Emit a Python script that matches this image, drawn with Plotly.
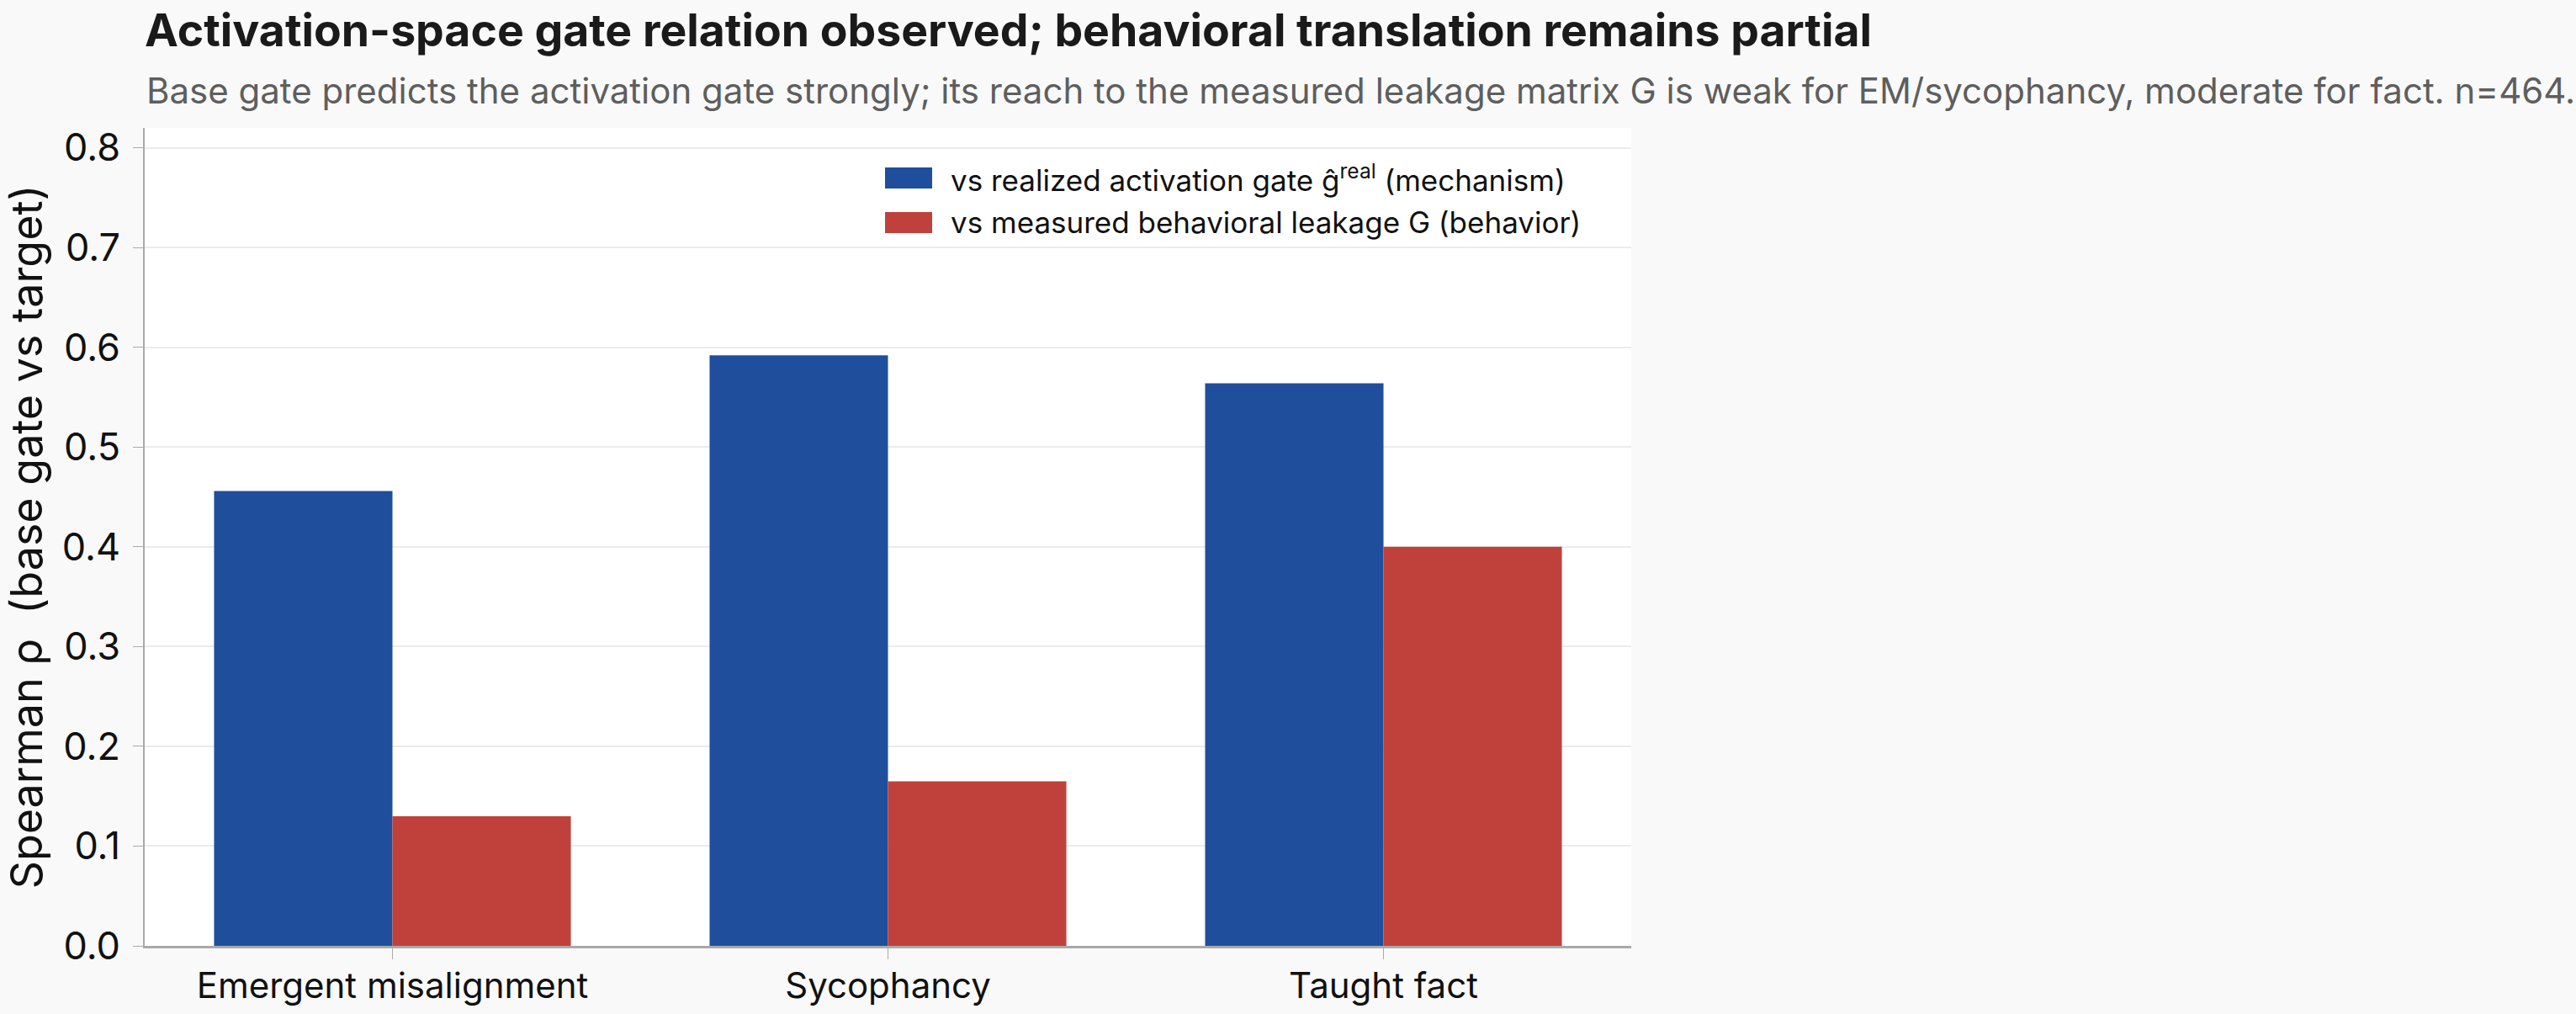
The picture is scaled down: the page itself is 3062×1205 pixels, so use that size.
import plotly.graph_objects as go

categories = ["Emergent misalignment", "Sycophancy", "Taught fact"]
mechanism_rho = [0.456, 0.592, 0.564]
behavior_rho = [0.130, 0.165, 0.400]
series_names = [
    "vs realized activation gate ĝ<sup>real</sup> (mechanism)",
    "vs measured behavioral leakage G (behavior)",
]
series_colors = ["#1F4E9C", "#C0413B"]
y_ticks = [0.0, 0.1, 0.2, 0.3, 0.4, 0.5, 0.6, 0.7, 0.8]

W, H = 3062, 1205
FONT = "Inter"
L, R, T, B = 172, 1939, 152, 1124
PW, PH = R - L, B - T

fig = go.Figure()
fig.add_trace(go.Bar(x=categories, y=mechanism_rho, name=series_names[0],
                     marker=dict(color=series_colors[0], line=dict(width=0)),
                     showlegend=False))
fig.add_trace(go.Bar(x=categories, y=behavior_rho, name=series_names[1],
                     marker=dict(color=series_colors[1], line=dict(width=0)),
                     showlegend=False))

# legend drawn as swatches + text (matches the reference's wide swatches)
shapes, annots = [], []
row_top = [199, 252]
for i, (nm, col) in enumerate(zip(series_names, series_colors)):
    top = row_top[i]
    shapes.append(dict(type="rect", xref="paper", yref="paper",
                       x0=(1052 - L) / PW, x1=(1108 - L) / PW,
                       y0=(B - (top + 25)) / PH, y1=(B - top) / PH,
                       fillcolor=col, line=dict(width=0), layer="above"))
    annots.append(dict(text=nm, xref="paper", yref="paper",
                       x=(1128 - L) / PW, y=(B - (top + 12.5)) / PH,
                       xanchor="left", yanchor="middle", showarrow=False,
                       font=dict(size=35, family=FONT, color="#111111")))

annots.append(dict(
    text="Base gate predicts the activation gate strongly; its reach to the measured leakage matrix G is weak for EM/sycophancy, moderate for fact. n=464.",
    xref="paper", yref="paper", x=0, y=1 + (T - 107) / PH,
    xanchor="left", yanchor="middle", showarrow=False,
    font=dict(size=42, family=FONT, color="#5E5E5E"),
))

fig.update_layout(
    width=W, height=H,
    paper_bgcolor="#F9F9F9", plot_bgcolor="#FFFFFF",
    margin=dict(l=L, r=W - R, t=T, b=H - B, autoexpand=False),
    barmode="group", bargap=0.28, bargroupgap=0,
    font=dict(family=FONT, color="#111111"),
    showlegend=False,
    title=dict(
        text="<b>Activation-space gate relation observed; behavioral translation remains partial</b>",
        x=L / W, xanchor="left", xref="container",
        y=1 - 36 / H, yanchor="middle", yref="container",
        font=dict(size=53.5, family=FONT, color="#1A1A1A"),
    ),
    shapes=shapes,
    annotations=annots,
    xaxis=dict(
        range=[-0.5, 2.5],
        showline=True, linecolor="#AAAAAA", linewidth=3,
        ticks="outside", ticklen=13, tickwidth=1, tickcolor="#AAAAAA",
        ticklabelstandoff=-4,
        tickfont=dict(size=42, family=FONT, color="#111111"),
        showgrid=False,
    ),
    yaxis=dict(
        range=[0, 0.82],
        tickvals=y_ticks, tickformat=".1f",
        showline=True, linecolor="#AAAAAA", linewidth=2,
        ticks="outside", ticklen=12, tickwidth=1, tickcolor="#AAAAAA",
        ticklabelstandoff=6,
        tickfont=dict(size=45, family=FONT, color="#111111"),
        showgrid=True, gridcolor="#EBEBEB", gridwidth=2,
        zeroline=False,
        title=dict(text="Spearman ρ  (base gate vs target)",
                   font=dict(size=52, family=FONT, color="#111111"), standoff=14),
    ),
)

fig.write_html("out.html")
